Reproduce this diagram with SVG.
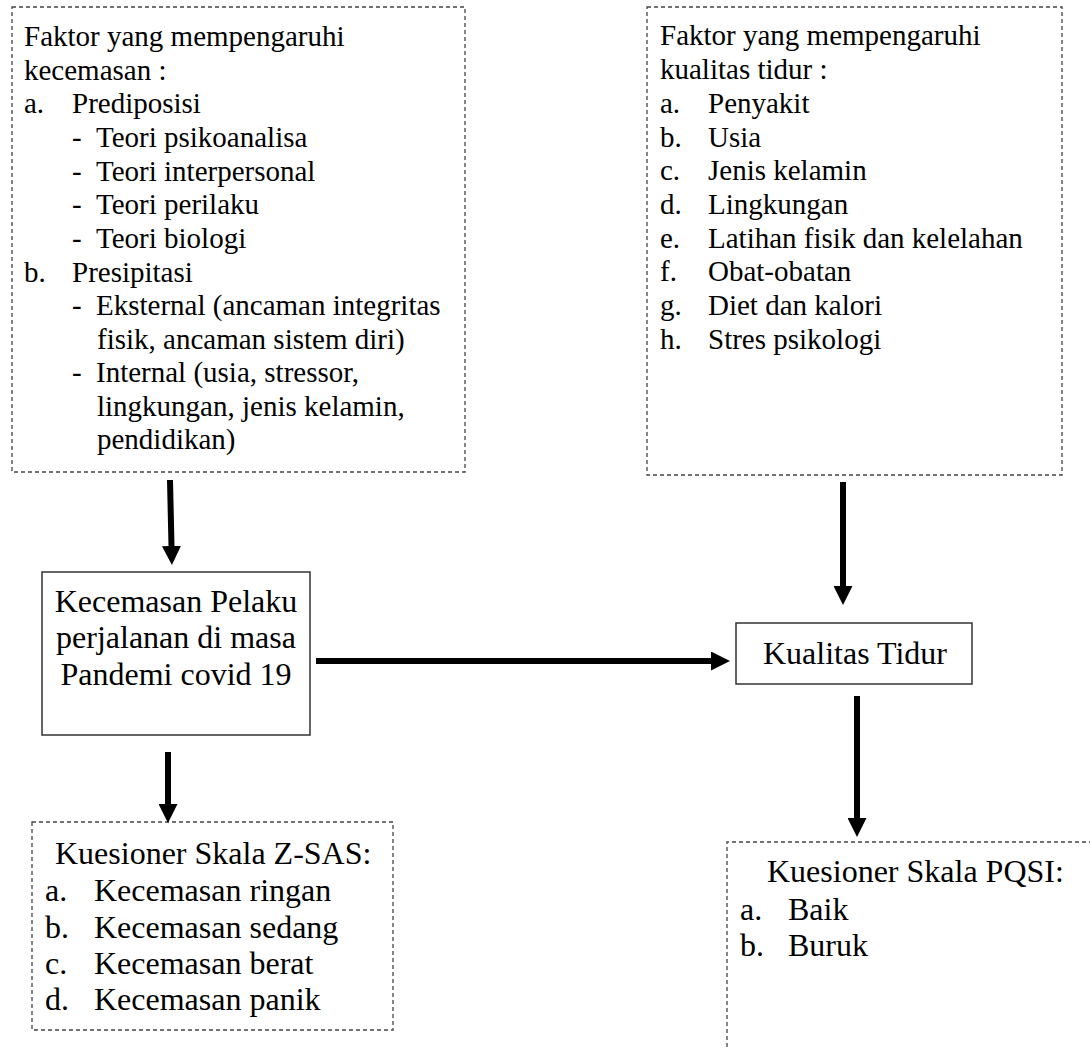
<svg xmlns="http://www.w3.org/2000/svg" width="1090" height="1047" viewBox="0 0 1090 1047">
<style>
  .dash { fill: #fff; stroke: #444; stroke-width: 1.3; stroke-dasharray: 4 3; }
  .solid { fill: #fff; stroke: #333; stroke-width: 1.5; }
  .t { font-family: "Liberation Serif", "Times New Roman", serif; fill: #000; }
  .s29 { font-size: 29px; }
  .s32 { font-size: 32px; }
  .mid { text-anchor: middle; }
  .arrow { stroke: #000; stroke-width: 6; fill: none; marker-end: url(#ah); }
</style>
<defs>
  <marker id="ah" markerUnits="userSpaceOnUse" markerWidth="19" markerHeight="19" refX="0" refY="9.5" orient="auto" viewBox="0 0 19 19">
    <path d="M0,0 L19,9.5 L0,19 z" fill="#000"/>
  </marker>
</defs>
<rect width="1090" height="1047" fill="#fff"/>

<g id="faktor-kecemasan">
  <rect class="dash" x="12" y="7" width="453" height="465"/>
  <g class="t s29">
    <text x="24" y="46">Faktor yang mempengaruhi</text>
    <text x="24" y="80">kecemasan :</text>
    <text x="24" y="113">a.</text><text x="72" y="113">Prediposisi</text>
    <text x="72" y="147">-</text><text x="96" y="147">Teori psikoanalisa</text>
    <text x="72" y="181">-</text><text x="96" y="181">Teori interpersonal</text>
    <text x="72" y="214">-</text><text x="96" y="214">Teori perilaku</text>
    <text x="72" y="248">-</text><text x="96" y="248">Teori biologi</text>
    <text x="24" y="282">b.</text><text x="72" y="282">Presipitasi</text>
    <text x="72" y="315">-</text><text x="96" y="315">Eksternal (ancaman integritas</text>
    <text x="97" y="349">fisik, ancaman sistem diri)</text>
    <text x="72" y="382">-</text><text x="96" y="382">Internal (usia, stressor,</text>
    <text x="97" y="416">lingkungan, jenis kelamin,</text>
    <text x="97" y="449">pendidikan)</text>
  </g>
</g>

<g id="faktor-tidur">
  <rect class="dash" x="647" y="7" width="415" height="468"/>
  <g class="t s29">
    <text x="660" y="45">Faktor yang mempengaruhi</text>
    <text x="660" y="79">kualitas tidur :</text>
    <text x="660" y="113">a.</text><text x="708" y="113">Penyakit</text>
    <text x="660" y="147">b.</text><text x="708" y="147">Usia</text>
    <text x="660" y="180">c.</text><text x="708" y="180">Jenis kelamin</text>
    <text x="660" y="214">d.</text><text x="708" y="214">Lingkungan</text>
    <text x="660" y="248">e.</text><text x="708" y="248">Latihan fisik dan kelelahan</text>
    <text x="660" y="281">f.</text><text x="708" y="281">Obat-obatan</text>
    <text x="660" y="315">g.</text><text x="708" y="315">Diet dan kalori</text>
    <text x="660" y="349">h.</text><text x="708" y="349">Stres psikologi</text>
  </g>
</g>

<g id="kecemasan">
  <rect class="solid" x="42" y="572" width="268" height="163"/>
  <g class="t s32 mid">
    <text x="176" y="612">Kecemasan Pelaku</text>
    <text x="176" y="648">perjalanan di masa</text>
    <text x="176" y="685">Pandemi covid 19</text>
  </g>
</g>

<g id="kualitas">
  <rect class="solid" x="736" y="623" width="236" height="61"/>
  <text class="t s32 mid" x="855" y="664">Kualitas Tidur</text>
</g>

<g id="zsas">
  <rect class="dash" x="32" y="822" width="361" height="208"/>
  <g class="t s32">
    <text x="55" y="864">Kuesioner Skala Z-SAS:</text>
    <text x="45" y="901">a.</text><text x="94" y="901">Kecemasan ringan</text>
    <text x="45" y="938">b.</text><text x="94" y="938">Kecemasan sedang</text>
    <text x="45" y="974">c.</text><text x="94" y="974">Kecemasan berat</text>
    <text x="45" y="1010">d.</text><text x="94" y="1010">Kecemasan panik</text>
  </g>
</g>

<g id="pqsi">
  <path class="dash" d="M727,1047 L727,842 L1090,842" fill="none"/>
  <g class="t s32">
    <text x="767" y="882">Kuesioner Skala PQSI:</text>
    <text x="740" y="920">a.</text><text x="788" y="920">Baik</text>
    <text x="740" y="956">b.</text><text x="788" y="956">Buruk</text>
  </g>
</g>

<g id="connectors">
  <line class="arrow" x1="170" y1="480" x2="171.5" y2="546"/>
  <line class="arrow" x1="168" y1="752" x2="168" y2="804"/>
  <line class="arrow" x1="316" y1="661" x2="711" y2="661"/>
  <line class="arrow" x1="843" y1="482" x2="843" y2="586"/>
  <line class="arrow" x1="857" y1="696" x2="857" y2="818"/>
</g>
</svg>
